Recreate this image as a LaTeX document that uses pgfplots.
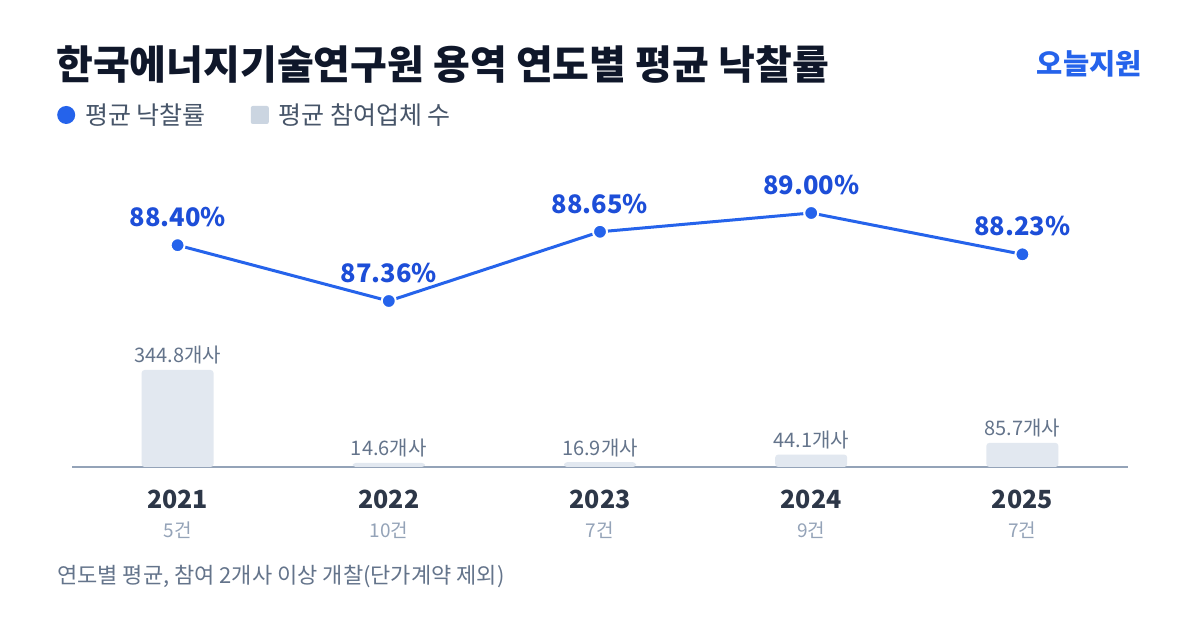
\documentclass[border=0pt]{standalone}
\usepackage{pgfplots}
\pgfplotsset{compat=1.18}
\usepackage{fontspec}
\setmainfont{Noto Sans CJK KR}

\definecolor{cblue}{HTML}{2563EB}
\definecolor{clabel}{HTML}{1D4ED8}
\definecolor{ctitle}{HTML}{0F172A}
\definecolor{clegend}{HTML}{475569}
\definecolor{clegsq}{HTML}{CBD5E1}
\definecolor{cbar}{HTML}{E2E8F0}
\definecolor{cbase}{HTML}{94A3B8}
\definecolor{cyear}{HTML}{2D3748}
\definecolor{ccount}{HTML}{94A3B8}
\definecolor{cval}{HTML}{64748B}

\pgfplotsset{/pgf/number format/assume math mode=true}

\begin{document}
\begin{tikzpicture}
\path[use as bounding box, fill=white] (0,0) rectangle (1200bp,630bp);

% title and brand
\node[anchor=west, inner sep=0, text=ctitle, font=\fontsize{40bp}{46bp}\selectfont\bfseries]
  at (56bp,565bp) {한국에너지기술연구원 용역 연도별 평균 낙찰률};
\node[anchor=east, inner sep=0, text=cblue, font=\fontsize{28.5bp}{32bp}\selectfont\bfseries]
  at (1142bp,566bp) {오늘지원};

% participants (bars)
\begin{axis}[
    at={(72bp,163bp)}, anchor=south west,
    scale only axis, width=1056bp, height=97bp,
    xmin=-0.5, xmax=4.5, ymin=0, ymax=344.8,
    ybar, bar width=72bp,
    axis y line=none, axis x line=bottom,
    x axis line style={draw=cbase, line width=1.5bp, -},
    xtick={0,1,2,3,4},
    xticklabels={2021,2022,2023,2024,2025},
    major tick length=0pt,
    xticklabel style={font=\fontsize{25bp}{29bp}\selectfont\bfseries, text=cyear, yshift=-19bp},
    extra x ticks={0,1,2,3,4},
    extra x tick labels={5건,10건,7건,9건,7건},
    extra x tick style={xticklabel style={font=\fontsize{19bp}{22bp}\selectfont\mdseries, text=ccount, yshift=-32bp}},
    nodes near coords={\pgfmathprintnumber[fixed,fixed zerofill,precision=1]{\pgfplotspointmeta}개사},
    every node near coord/.append style={font=\fontsize{20bp}{23bp}\selectfont, text=cval, anchor=south, yshift=2bp},
    clip=false
]
\addplot[fill=cbar, draw=none, rounded corners=3bp] coordinates {
    (0,344.8) (1,14.6) (2,16.9) (3,44.1) (4,85.7)
};
\end{axis}

% average winning rate (line)
\begin{axis}[
    at={(72bp,329bp)}, anchor=south west,
    scale only axis, width=1056bp, height=88bp,
    xmin=-0.5, xmax=4.5, ymin=87.36, ymax=89.00,
    hide axis, clip=false,
    legend style={at={(-0.0142,2.114)}, anchor=west, draw=none, fill=none, inner sep=0pt,
        legend columns=2, font=\fontsize{25bp}{29bp}\selectfont, text=clegend,
        /tikz/every odd column/.append style={column sep=10bp},
        /tikz/every even column/.append style={column sep=45bp},
        nodes={inner sep=0pt}, cells={anchor=west}},
    legend cell align=left,
]
\addplot[cblue, line width=3bp, mark=*, mark size=7bp,
    mark options={fill=cblue, draw=white, line width=2bp},
    nodes near coords={\pgfmathprintnumber[fixed,fixed zerofill,precision=2]{\pgfplotspointmeta}\%},
    every node near coord/.append style={font=\fontsize{25.5bp}{29bp}\selectfont\bfseries, text=clabel, anchor=center, yshift=28bp},
    legend image code/.code={\fill[cblue, draw=none] (9bp,0bp) circle (9bp);}
] coordinates {
    (0,88.40) (1,87.36) (2,88.65) (3,89.00) (4,88.23)
};
\addlegendentry{평균 낙찰률}
\addlegendimage{draw=none, legend image code/.code={\fill[clegsq, draw=none, rounded corners=2bp] (0bp,-9bp) rectangle (18bp,9bp);}}
\addlegendentry{평균 참여업체 수}
\end{axis}

% footnote
\node[anchor=west, inner sep=0, text=cval, font=\fontsize{22bp}{26bp}\selectfont]
  at (57bp,53bp) {연도별 평균, 참여 2개사 이상 개찰(단가계약 제외)};
\end{tikzpicture}
\end{document}
